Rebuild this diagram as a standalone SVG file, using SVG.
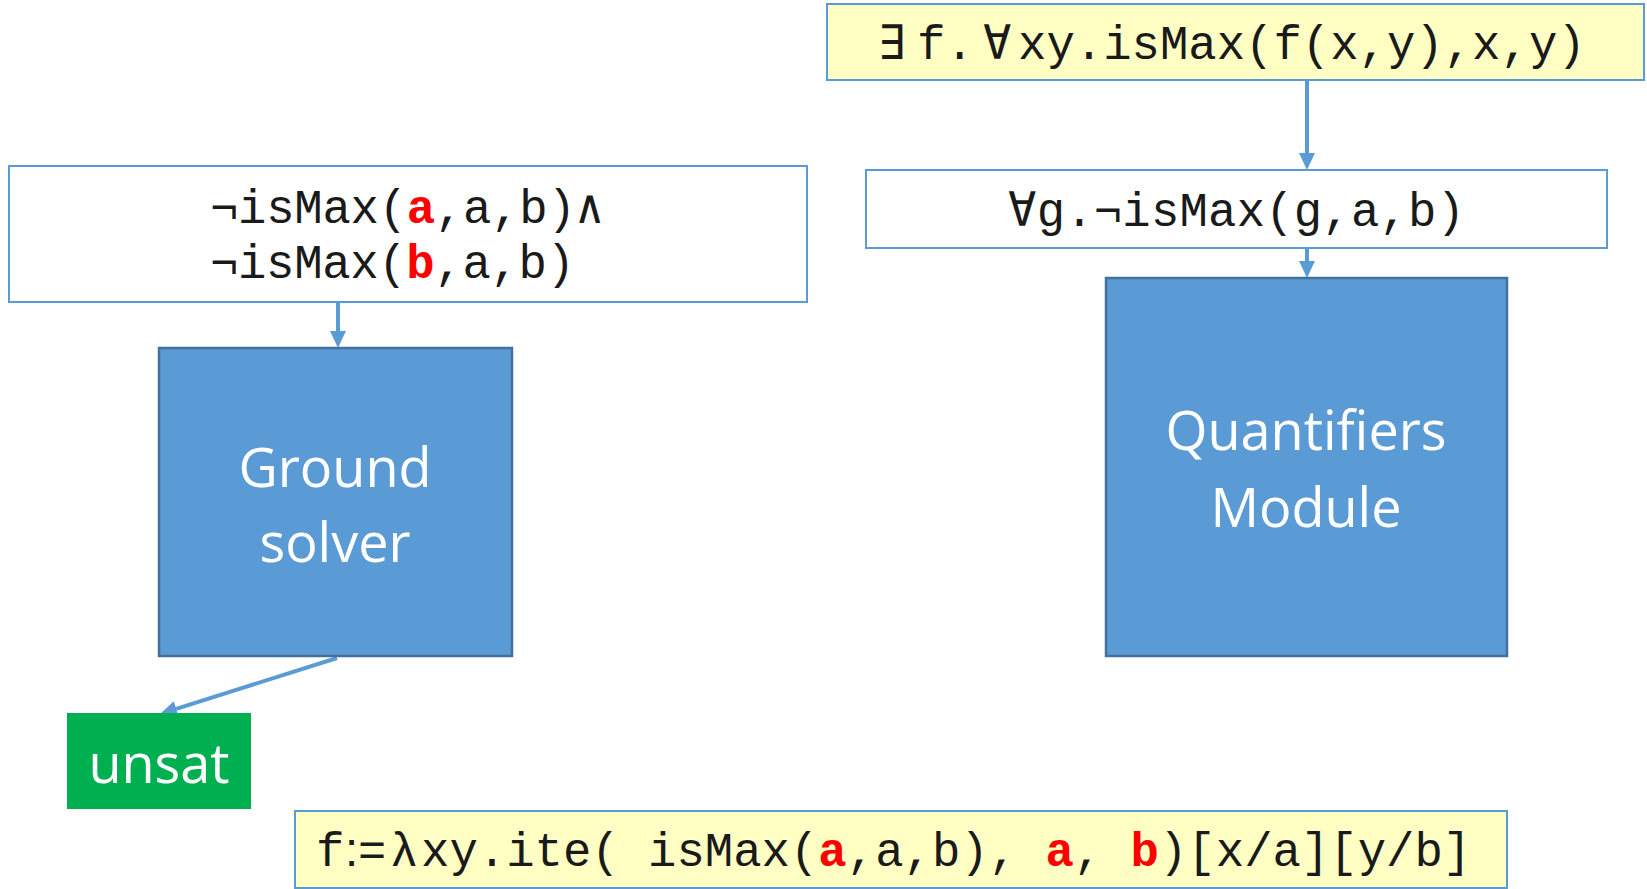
<svg xmlns="http://www.w3.org/2000/svg" width="1647" height="889" viewBox="0 0 1647 889">
<style>
.wbox{fill:#ffffff;stroke:#5b9bd5;stroke-width:2}
.ybox{fill:#ffffc4;stroke:#5b9bd5;stroke-width:2}
.blue{fill:#5b9bd5;stroke:#41719c;stroke-width:2.5}
.green{fill:#00b050}
.mono{font-family:"Liberation Mono","DejaVu Sans Mono",monospace;font-size:47.3px;fill:#1a1a1a}
.sans{font-family:"Liberation Sans",sans-serif}
.hl{fill:#ff0000;font-weight:bold}
.lbl{font-family:"Open Sans","Noto Sans",sans-serif;font-size:54px;fill:#ffffff;text-anchor:middle}
.conn{stroke:#5b9bd5;stroke-width:4;fill:none;marker-end:url(#ah)}
</style>
<defs>
<marker id="ah" markerUnits="userSpaceOnUse" markerWidth="18" markerHeight="16" refX="0" refY="8" orient="auto" overflow="visible">
<path d="M0,0 L17,8 L0,16 z" fill="#5b9bd5"/>
</marker>
</defs>
<rect width="1647" height="889" fill="#ffffff"/>
<g id="connectors">
<line class="conn" x1="1307" y1="68" x2="1307" y2="153"/>
<line class="conn" x1="1307" y1="239" x2="1307" y2="261"/>
<line class="conn" x1="338" y1="302" x2="338" y2="331"/>
<line class="conn" x1="337" y1="658" x2="176.2" y2="708.9"/>
</g>
<g id="top-formula">
<rect class="ybox" x="827" y="4" width="817" height="76"/>
<text class="mono" y="59"><tspan x="878">∃</tspan><tspan x="917">f.</tspan><tspan x="983">∀</tspan><tspan x="1018">xy.isMax(f(x,y),x,y)</tspan></text>
</g>
<g id="ground-formula">
<rect class="wbox" x="9" y="166" width="798" height="136"/>
<text class="mono" x="210" y="223" textLength="394" lengthAdjust="spacing">¬isMax(<tspan class="hl">a</tspan>,a,b)∧</text>
<text class="mono" x="210" y="278" textLength="365" lengthAdjust="spacing">¬isMax(<tspan class="hl">b</tspan>,a,b)</text>
</g>
<g id="forall-formula">
<rect class="wbox" x="866" y="170" width="741" height="78"/>
<text class="mono" x="1008" y="226" textLength="457" lengthAdjust="spacing">∀g.¬isMax(g,a,b)</text>
</g>
<g id="ground-solver">
<rect class="blue" x="159" y="348" width="353" height="308"/>
<text class="lbl" x="335" y="487">Ground</text>
<text class="lbl" x="335" y="562">solver</text>
</g>
<g id="quantifiers-module">
<rect class="blue" x="1106" y="278" width="401" height="378"/>
<text class="lbl" x="1306" y="450">Quantifiers</text>
<text class="lbl" x="1306" y="527">Module</text>
</g>
<g id="unsat">
<rect class="green" x="67" y="713" width="184" height="96"/>
<text class="lbl" x="159" y="783">unsat</text>
</g>
<g id="model-formula">
<rect class="ybox" x="295" y="811" width="1212" height="77"/>
<text class="mono" y="866"><tspan x="316">f</tspan><tspan class="sans" x="345">:=</tspan><tspan x="390">λ</tspan><tspan x="421">xy.ite( isMax(</tspan><tspan class="hl">a</tspan>,a,b), <tspan class="hl">a</tspan>, <tspan class="hl">b</tspan>)[x/a][y/b]</text>
</g>
</svg>
